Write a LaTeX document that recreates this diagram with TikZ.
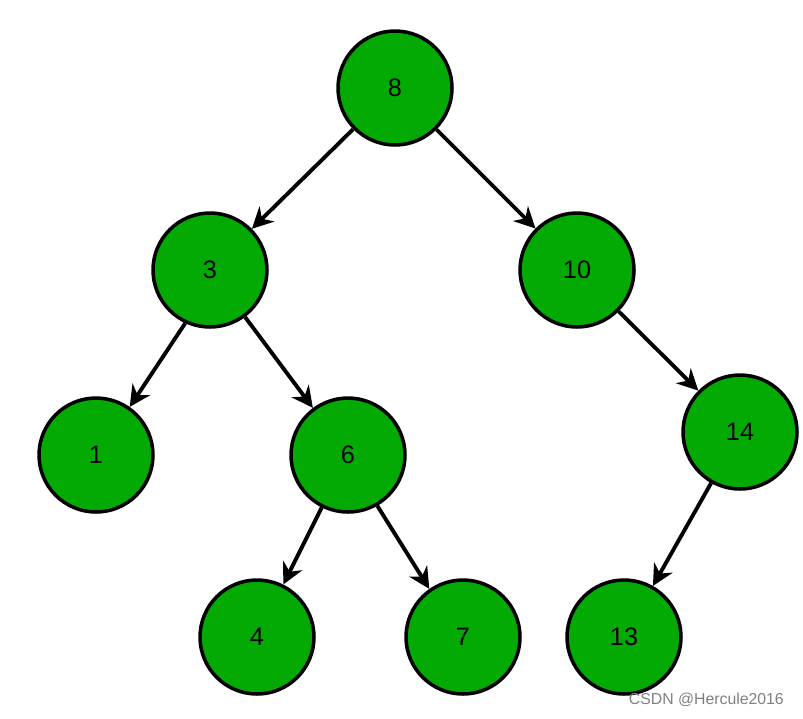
\documentclass[tikz,border=0pt]{standalone}
\usepackage{fontspec}
\setmainfont{Liberation Sans}
\usetikzlibrary{arrows.meta}

\begin{document}
\begin{tikzpicture}[x=0.02cm,y=-0.02cm,
  vertex/.style={circle,draw=black,line width=2pt,fill={rgb,255:red,4;green,170;blue,4},
    minimum size=2.28cm,inner sep=0pt,font=\Large},
  edge/.style={-{Stealth[length=12pt,width=12pt]},line width=2.2pt}]

\useasboundingbox (0,0) rectangle (803,718);

\node[vertex] (n8) at (395,88) {8};
\node[vertex] (n3) at (210,270) {3};
\node[vertex] (n10) at (577,270) {10};
\node[vertex] (n1) at (96,455) {1};
\node[vertex] (n6) at (348,455) {6};
\node[vertex] (n14) at (740,432) {14};
\node[vertex] (n4) at (257,637) {4};
\node[vertex] (n7) at (463,637) {7};
\node[vertex] (n13) at (624,637) {13};

\draw[edge] (n8) -- (n3);
\draw[edge] (n8) -- (n10);
\draw[edge] (n3.245) -- (n1.55);
\draw[edge] (n3) -- (n6);
\draw[edge] (n10) -- (n14);
\draw[edge] (n6) -- (n4);
\draw[edge] (n6.300) -- (n7.125);
\draw[edge] (n14) -- (n13);

\node[text=gray,font=\small,anchor=east] (mark) at (790,700) {CSDN @Hercule2016};

\end{tikzpicture}
\end{document}
